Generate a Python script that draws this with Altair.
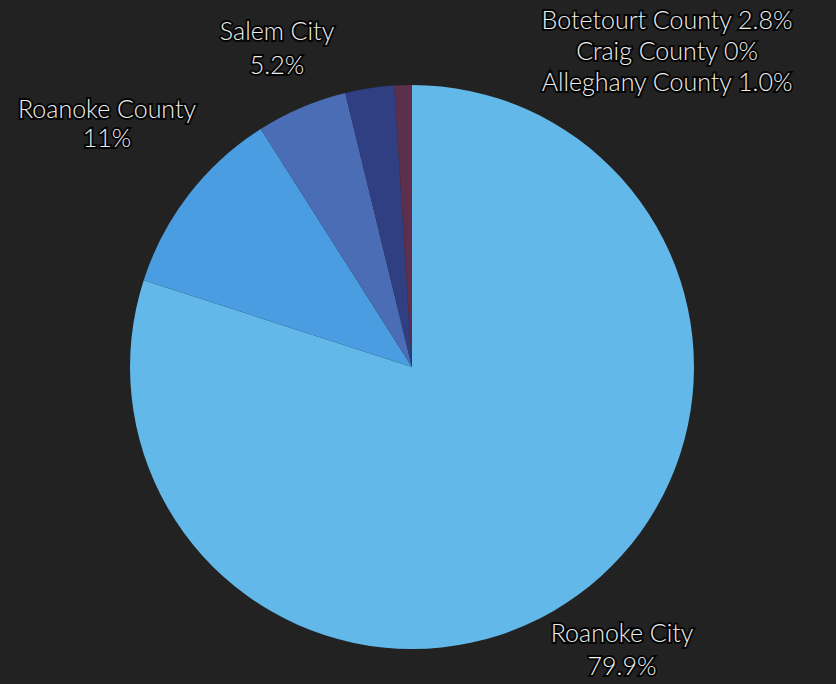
import altair as alt
import pandas as pd

regions = ["Roanoke City", "Roanoke County", "Salem City", "Botetourt County", "Craig County", "Alleghany County"]
shares = [79.9, 11.0, 5.2, 2.8, 0.0, 1.0]
share_labels = ["79.9%", "11%", "5.2%", "2.8%", "0%", "1.0%"]
colors = ["#62b8e8", "#4a9de0", "#4a6db6", "#2f3f82", "#3a3560", "#5e2f4c"]

df = pd.DataFrame({"region": regions, "share": shares, "order": list(range(len(regions)))})

pie = alt.Chart(df).mark_arc(outerRadius=282, stroke=None).encode(
    theta=alt.Theta("share:Q", stack=True),
    order=alt.Order("order:Q"),
    color=alt.Color("region:N", scale=alt.Scale(domain=regions, range=colors), legend=None),
    x=alt.value(412),
    y=alt.value(367),
)

# annotation text (label lines built from the data arrays)
label_lines = [
    (regions[0], 622, 634), (share_labels[0], 622, 667),
    (regions[1], 107, 110), (share_labels[1], 107, 139),
    (regions[2], 277, 32), (share_labels[2], 277, 66),
    (f"{regions[3]} {share_labels[3]}", 667, 21),
    (f"{regions[4]} {share_labels[4]}", 667, 52),
    (f"{regions[5]} {share_labels[5]}", 667, 83),
]

layers = [pie]
for txt, px, py in label_lines:
    base = alt.Chart(pd.DataFrame({"t": [txt]}))
    shadow = base.mark_text(
        font="Lato", fontSize=25, fontWeight=300, color="#000000", stroke="#000000", strokeWidth=4,
        align="center", baseline="middle", opacity=0.8
    ).encode(text="t:N", x=alt.value(px), y=alt.value(py))
    front = base.mark_text(
        font="Lato", fontSize=25, fontWeight=300, color="#eeeeee", align="center", baseline="middle"
    ).encode(text="t:N", x=alt.value(px), y=alt.value(py))
    layers += [shadow, front]

chart = alt.layer(*layers).properties(
    width=836, height=684, background="#222222", padding=0,
    autosize=alt.AutoSizeParams(type="none"),
).configure_view(stroke=None)

chart.save("out.html", embed_options={"renderer": "svg", "actions": False})
